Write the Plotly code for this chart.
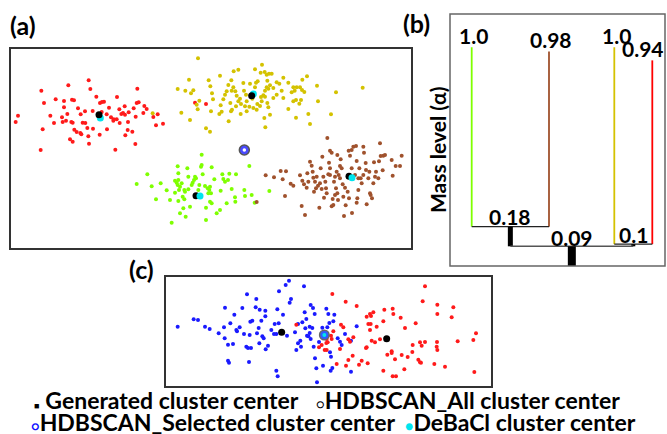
import plotly.graph_objects as go

# ---------------- Panel (a): four generated clusters (arbitrary units, y downward) ----------------
red_a = [(17,222),(24,203),(94,128),(102,165),(175,112),(137,154),(162,159),(186,155),(192,157),(236,97),
         (241,123),(259,146),(270,165),(276,162),(282,161),(321,147),(382,122),(380,165),(386,163),(403,174),
         (410,183),(162,178),(172,198),(204,181),(212,199),(225,190),(248,189),(275,192),(290,199),(297,179),
         (303,208),(311,214),(328,184),(334,198),(339,195),(344,175),(345,200),(356,193),(371,181),(377,206),
         (400,195),(430,207),(443,199),(438,232),(459,227),(121,203),(132,225),(156,208),(158,222),(168,218),
         (184,222),(188,224),(193,245),(200,252),(211,255),(214,259),(218,224),(226,225),(232,240),(235,265),
         (237,287),(249,242),(269,260),(291,244),(310,218),(320,214),(329,225),(346,262),(354,222),(353,246),
         (367,251),(376,288),(180,274),(188,281),(98,244),(92,306),(316,305),(555,164),(588,168)]
yellow_a = [(564,31),(503,123),(526,128),(537,95),(543,136),(550,127),(514,194),(540,216),(560,170),(568,158),
            (563,184),(588,241),(600,251),(596,97),(601,115),(606,136),(609,154),(603,190),(630,83),(632,172),
            (628,198),(635,191),(640,154),(645,140),(650,130),(655,111),(656,220),(661,165),(663,190),(666,185),
            (664,97),(671,70),(685,65),(670,118),(665,128),(676,130),(680,143),(685,160),(690,152),(678,175),
            (693,168),(700,105),(702,128),(708,140),(710,190),(718,176),(720,107),(735,64),(738,104),(743,100),
            (756,50),(752,74),(764,72),(770,80),(777,77),(785,77),(772,98),(770,118),(765,128),(775,122),
            (780,112),(790,120),(800,103),(808,107),(820,89),(815,128),(820,150),(835,104),(835,183),(845,133),
            (850,118),(854,128),(860,118),(870,118),(876,126),(883,132),(850,160),(858,156),(873,156),(868,167),
            (877,95),(891,85),(921,113),(924,160),(895,198),(900,228),(858,209),(963,199),(978,133),(1058,119),
            (735,118),(742,168),(750,174),(753,147),(760,142),(765,146),(772,165),(775,178),(780,200),(763,210),
            (766,238),(727,152),(710,160),(692,198),(705,175),(790,150),(800,140),(740,185),(730,180),(755,160),
            (428,196)]
green_a = [(380,408),(412,379),(425,415),(438,454),(452,406),(470,427),(485,524),(503,355),(505,376),(495,398),
           (500,404),(503,411),(510,416),(507,426),(495,434),(505,459),(510,496),(518,446),(523,454),(523,426),
           (525,431),(527,506),(532,361),(535,386),(535,424),(540,476),(545,411),(548,404),(552,396),(555,386),
           (558,391),(565,426),(568,411),(573,356),(575,320),(578,379),(585,414),(588,479),(588,516),(593,421),
           (595,436),(598,426),(600,461),(603,436),(605,466),(605,358),(613,394),(620,496),(630,486),(632,428),
           (637,379),(640,393),(645,401),(650,466),(654,396),(658,377),(665,423),(675,448),(676,461),(678,379),
           (703,426),(705,444),(718,354),(725,441),(734,464),(778,429),(600,416),(480,456),(520,481),(505,396),
           (515,406),(575,351)]
brown_a = [(767,382),(792,388),(812,369),(818,394),(828,370),(825,444),(842,407),(850,413),(870,382),(875,474),
           (877,398),(882,409),(885,501),(890,419),(892,376),(895,401),(900,341),(905,353),(908,371),(910,389),
           (912,431),(918,421),(920,386),(924,413),(928,479),(930,406),(932,361),(937,326),(940,386),(942,449),
           (946,401),(948,421),(952,270),(955,379),(957,344),(960,308),(960,381),(965,314),(965,475),(968,453),
           (970,471),(972,401),(975,386),(978,421),(980,371),(982,321),(984,456),(986,381),(990,354),(992,334),
           (995,361),(998,409),(1000,446),(1002,504),(1005,419),(1007,472),(1013,431),(1016,308),(1017,451),
           (1020,323),(1025,361),(1025,306),(1026,495),(1030,296),(1035,381),(1038,294),(1040,339),(1040,464),
           (1042,451),(1045,391),(1048,361),(1052,391),(1055,406),(1060,296),(1062,314),(1067,345),(1068,366),
           (1070,469),(1075,391),(1078,371),(1080,436),(1082,441),(1086,451),(1090,406),(1092,343),(1095,386),
           (1098,371),(1105,391),(1107,340),(1110,286),(1112,324),(1118,367),(1120,323),(1125,321),(1145,336),
           (1148,383),(1157,354),(1170,354),(1175,323),(990,391),(960,361),(935,423),(950,436),(982,436),
           (1045,426),(1060,381),(915,401),(975,441),(740,462)]
gen_center_a = [(267,200),(725,143),(558,443),(1017,385)]
debacl_center_a = [(271,210),(730,138),(570,444),(1026,389)]
hdbscan_center_a = [(703,306)]

# ---------------- Panel (c): two overlapping clusters ----------------
blue_c = [(38,152),(86,130),(99,132),(120,152),(134,159),(161,172),(177,154),(180,95),(179,187),(189,206),
          (189,254),(192,260),(204,204),(196,142),(208,116),(214,162),(216,166),(224,154),(232,96),(237,174),
          (244,212),(246,55),(249,216),(252,258),(256,137),(258,216),(262,134),(254,177),(272,94),(274,69),
          (276,172),(281,156),(283,202),(284,101),(289,134),(292,181),(296,187),(301,104),(301,121),(302,220),
          (309,209),(319,162),(327,174),(329,144),(334,174),(337,100),(334,284),(338,301),(341,142),(342,46),
          (354,116),(362,27),(366,179),(372,14),(374,80),(378,69),(390,169),(394,222),(399,202),(399,144),
          (406,194),(408,212),(412,139),(417,31),(419,109),(421,157),(424,129),(426,179),(430,181),(434,171),
          (434,152),(437,87),(437,189),(442,156),(444,96),(446,212),(449,114),(450,247),(454,277),(456,319),
          (462,198),(472,155),(474,269),(484,98),(487,154),(490,114),(508,116),(505,136),(493,141),(518,187),
          (525,197),(530,207),(540,174),(558,194),(575,151),(495,229),(498,242),(502,276),(497,284),(558,287)]
red_c = [(780,31),(502,54),(542,77),(575,90),(605,122),(618,120),(625,109),(615,114),(610,144),(617,144),
         (635,152),(615,162),(620,194),(630,199),(645,190),(655,136),(658,101),(683,98),(685,114),(707,125),
         (720,156),(752,142),(773,76),(817,86),(817,114),(865,94),(860,124),(933,172),(925,192),(878,196),
         (816,198),(815,212),(817,222),(780,198),(765,199),(770,209),(743,207),(742,228),(728,243),(710,237),
         (680,226),(680,231),(667,236),(690,250),(655,284),(683,301),(693,301),(718,280),(760,251),(765,259),
         (768,260),(808,264),(840,272),(928,288),(605,214),(563,239),(550,252),(543,269),(515,264),(525,219),
         (528,146),(535,154),(565,184),(550,190),(555,197),(582,266),(590,254),(608,262),(603,216),(500,189),
         (505,166),(498,179),(488,199),(485,189),(485,222),(394,146),(462,214),(479,222),(484,201),(470,207)]
gen_center_c = [(350,169),(665,188)]
hdbscan_center_c = [(478,177)]

# ---------------- Panel (b): DeBaCl dendrogram ----------------
leaf_pos = [21.7, 99.0, 164.3, 202.3]
leaf_top = [1.0, 0.98, 1.0, 0.94]
leaf_bottom = [0.18, 0.18, 0.1, 0.1]
leaf_colors = ["#7fff00", "#a0522d", "#d4c200", "#ff0000"]
leaf_labels = ["1.0", "0.98", "1.0", "0.94"]
node_children = [(0, 1), (2, 3)]          # internal nodes merging leaves
node_top = [0.18, 0.1]
node_bottom = [0.09, 0.09]
node_labels = ["0.18", "0.1"]
node_widths = [5, 4]
root_top = 0.09
root_bottom = 0.0
root_label = "0.09"
root_width = 8

W, H = 667, 434
FONT = "Lato, 'Open Sans', sans-serif"

fig = go.Figure()

def xy(pts):
    return [p[0] for p in pts], [p[1] for p in pts]

# panel (a)
for pts, col in [(red_a, "#ff1a1a"), (yellow_a, "#d4c200"), (green_a, "#7fff00"), (brown_a, "#a0522d")]:
    x, y = xy(pts)
    fig.add_trace(go.Scatter(x=x, y=y, mode="markers", marker=dict(size=4, color=col),
                             xaxis="x", yaxis="y", hoverinfo="skip"))
x, y = xy(hdbscan_center_a)
fig.add_trace(go.Scatter(x=x, y=y, mode="markers", xaxis="x", yaxis="y",
                         marker=dict(size=10, color="#4a4aff", line=dict(color="#555555", width=1.5))))
fig.add_trace(go.Scatter(x=x, y=y, mode="markers", xaxis="x", yaxis="y",
                         marker=dict(size=3.5, color="white")))
# cyan behind black for red & yellow, in front for green & brown
x, y = xy(debacl_center_a[:2])
fig.add_trace(go.Scatter(x=x, y=y, mode="markers", xaxis="x", yaxis="y",
                         marker=dict(size=7, color="#00e5ee")))
x, y = xy(gen_center_a)
fig.add_trace(go.Scatter(x=x, y=y, mode="markers", xaxis="x", yaxis="y",
                         marker=dict(size=7, color="black")))
x, y = xy(debacl_center_a[2:])
fig.add_trace(go.Scatter(x=x, y=y, mode="markers", xaxis="x", yaxis="y",
                         marker=dict(size=7, color="#00e5ee")))

# panel (c)
for pts, col in [(blue_c, "#1a1aff"), (red_c, "#ff1a1a")]:
    x, y = xy(pts)
    fig.add_trace(go.Scatter(x=x, y=y, mode="markers", marker=dict(size=4, color=col),
                             xaxis="x3", yaxis="y3", hoverinfo="skip"))
x, y = xy(gen_center_c)
fig.add_trace(go.Scatter(x=x, y=y, mode="markers", xaxis="x3", yaxis="y3",
                         marker=dict(size=7, color="black")))
x, y = xy(hdbscan_center_c)
fig.add_trace(go.Scatter(x=x, y=y, mode="markers", xaxis="x3", yaxis="y3",
                         marker=dict(size=9.5, color="#2f5bff", line=dict(color="#666666", width=1.5))))
fig.add_trace(go.Scatter(x=x, y=y, mode="markers", xaxis="x3", yaxis="y3",
                         marker=dict(size=4, color="#00e5ee")))

# panel (b) dendrogram
annotations = []
for i in range(4):
    fig.add_trace(go.Scatter(x=[leaf_pos[i], leaf_pos[i]], y=[leaf_bottom[i], leaf_top[i]], mode="lines",
                             line=dict(color=leaf_colors[i], width=1.8), xaxis="x2", yaxis="y2"))
    annotations.append(dict(x=leaf_pos[i], y=leaf_top[i], xref="x2", yref="y2", text="<b>%s</b>" % leaf_labels[i],
                            showarrow=False, xanchor="center", yanchor="middle", yshift=12,
                            xshift=(-9 if i == 3 else 2),
                            font=dict(family=FONT, size=21, color="black")))
node_pos = []
for k, (a, b) in enumerate(node_children):
    p = (leaf_pos[a] + leaf_pos[b]) / 2
    node_pos.append(p)
    fig.add_trace(go.Scatter(x=[leaf_pos[a], leaf_pos[b]], y=[node_top[k], node_top[k]], mode="lines",
                             line=dict(color="#222222", width=1.2), xaxis="x2", yaxis="y2"))
    fig.add_trace(go.Scatter(x=[p, p], y=[node_bottom[k], node_top[k]], mode="lines",
                             line=dict(color="black", width=node_widths[k]), xaxis="x2", yaxis="y2"))
    annotations.append(dict(x=p, y=node_top[k], xref="x2", yref="y2", text="<b>%s</b>" % node_labels[k],
                            showarrow=False, xanchor="center", yanchor="middle", yshift=10,
                            font=dict(family=FONT, size=21, color="black")))
root_pos = (node_pos[0] + node_pos[1]) / 2
fig.add_trace(go.Scatter(x=[node_pos[0], node_pos[1]], y=[root_top, root_top], mode="lines",
                         line=dict(color="#555555", width=1.5), xaxis="x2", yaxis="y2"))
fig.add_trace(go.Scatter(x=[root_pos, root_pos], y=[root_bottom, root_top], mode="lines",
                         line=dict(color="black", width=root_width), xaxis="x2", yaxis="y2"))
annotations.append(dict(x=root_pos, y=root_top, xref="x2", yref="y2", text="<b>%s</b>" % root_label,
                        showarrow=False, xanchor="center", yanchor="middle", yshift=9,
                        font=dict(family=FONT, size=21, color="black")))

# text labels
def px(xp):
    return xp / W
def py(yp):
    return 1 - yp / H

lab_font = dict(family=FONT, size=25, color="black")
annotations += [
    dict(x=px(23), y=py(25), xref="paper", yref="paper", text="<b>(a)</b>", showarrow=False,
         xanchor="center", yanchor="middle", font=lab_font),
    dict(x=px(416), y=py(23), xref="paper", yref="paper", text="<b>(b)</b>", showarrow=False,
         xanchor="center", yanchor="middle", font=lab_font),
    dict(x=px(141), y=py(269), xref="paper", yref="paper", text="<b>(c)</b>", showarrow=False,
         xanchor="center", yanchor="middle", font=lab_font),
    dict(x=px(438), y=py(150), xref="paper", yref="paper", text="<b>Mass level (α)</b>", textangle=-90,
         showarrow=False, xanchor="center", yanchor="middle", font=dict(family=FONT, size=21, color="black")),
]
leg_font = dict(family=FONT, size=23, color="black")
legend_items = [
    (32, 400, "<span style='font-size:9px'>■</span> <b>Generated cluster center</b>"),
    (314, 400, "<span style='font-size:13px'>○</span><b>HDBSCAN_All cluster center</b>"),
    (29, 422, "<span style='font-size:13px;color:#1010ff'><b>○</b></span><b>HDBSCAN_Selected cluster center</b>"),
    (403, 422, "<span style='font-size:14px;color:#00e5ee'>●</span><b>DeBaCl cluster center</b>"),
]
for xp, yp, t in legend_items:
    annotations.append(dict(x=px(xp), y=py(yp), xref="paper", yref="paper", text=t, showarrow=False,
                            xanchor="left", yanchor="middle", font=leg_font))

ax = dict(visible=False, showgrid=False, zeroline=False)
fig.update_layout(
    width=W, height=H, autosize=False, margin=dict(l=0, r=0, t=0, b=0),
    paper_bgcolor="white", plot_bgcolor="white", showlegend=False,
    xaxis=dict(ax, domain=[px(10), px(412)], range=[0, 1206]),
    yaxis=dict(ax, domain=[py(249), py(48)], range=[603, 0], anchor="x"),
    xaxis2=dict(ax, domain=[px(450), px(665)], range=[0, 215], anchor="y2"),
    yaxis2=dict(ax, domain=[py(266), py(14)], range=[0, 1.152], anchor="x2"),
    xaxis3=dict(ax, domain=[px(165), px(492)], range=[0, 981], anchor="y3"),
    yaxis3=dict(ax, domain=[py(387), py(276)], range=[333, 0], anchor="x3"),
    annotations=annotations,
    shapes=[
        dict(type="rect", xref="x domain", yref="y domain", x0=0, x1=1, y0=0, y1=1,
             line=dict(color="#333333", width=2)),
        dict(type="rect", xref="x2 domain", yref="y2 domain", x0=0, x1=1, y0=0, y1=1,
             line=dict(color="#666666", width=1.5)),
        dict(type="rect", xref="x3 domain", yref="y3 domain", x0=0, x1=1, y0=0, y1=1,
             line=dict(color="#333333", width=2)),
    ],
)

fig.write_html("out.html")
